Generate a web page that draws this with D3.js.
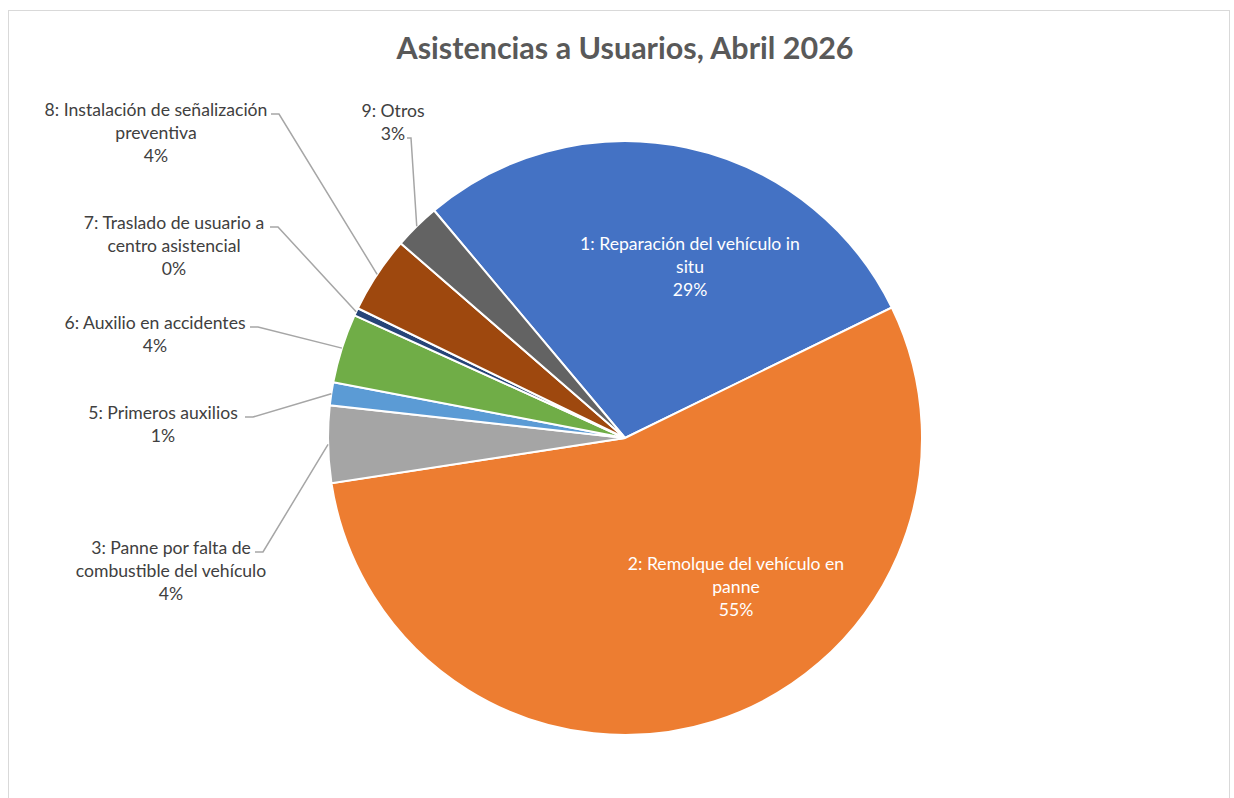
<!DOCTYPE html>
<html>
<head>
<meta charset="utf-8">
<script src="https://cdn.jsdelivr.net/npm/d3@7"></script>
<style>
  body { margin: 0; background: #fff; }
  text { font-family: Lato, "Open Sans", sans-serif; }
</style>
</head>
<body>
<div id="chart"></div>
<script>
// data
var categories = [
  "1: Reparación del vehículo in situ",
  "2: Remolque del vehículo en panne",
  "3: Panne por falta de combustible del vehículo",
  "5: Primeros auxilios",
  "6: Auxilio en accidentes",
  "7: Traslado de usuario a centro asistencial",
  "8: Instalación de señalización preventiva",
  "9: Otros"
];
var counts = [69, 131, 10, 3, 9, 1, 10, 6];
var colors = ["#4472C4", "#ED7D31", "#A5A5A5", "#5B9BD5", "#70AD47", "#264478", "#9E480E", "#636363"];

var W = 1234, H = 798;
var cx = 625, cy = 438, radius = 297;

// label placement (text centre x, first baseline y, inside?, leader start)
var labelPos = [
  {x: 690, y: 250, inside: true},
  {x: 736, y: 570, inside: true},
  {x: 171, y: 554, lx: 255, ly: 552},
  {x: 163, y: 419, lx: 245, ly: 417},
  {x: 155, y: 329, lx: 250, ly: 327},
  {x: 174, y: 229, lx: 270, ly: 227},
  {x: 156, y: 116, lx: 271, ly: 114},
  {x: 393, y: 117, lx: 407, ly: 138, vert: true}
];

var total = d3.sum(counts);
var fmtPct = function(v) { return Math.round(v / total * 100) + "%"; };

var svg = d3.select("#chart").append("svg")
  .attr("width", W)
  .attr("height", H);

// chart border
svg.append("rect")
  .attr("x", 8.5).attr("y", 10.5)
  .attr("width", 1221).attr("height", 800)
  .attr("fill", "#fff")
  .attr("stroke", "#d9d9d9");

svg.append("text")
  .attr("x", 625)
  .attr("y", 59)
  .attr("text-anchor", "middle")
  .style("font-size", "30.5px")
  .style("font-weight", "bold")
  .style("fill", "#595959")
  .text("Asistencias a Usuarios, Abril 2026");

var start = 320 * Math.PI / 180;
var pie = d3.pie().sort(null).value(function(d) { return d; })
  .startAngle(start).endAngle(start + 2 * Math.PI);
var arcs = pie(counts);

var arc = d3.arc().innerRadius(0).outerRadius(radius);
var rimArc = d3.arc().innerRadius(radius).outerRadius(radius);

var g = svg.append("g").attr("transform", "translate(" + cx + "," + cy + ")");

g.selectAll("path.slice")
  .data(arcs)
  .enter().append("path")
  .attr("class", "slice")
  .attr("d", arc)
  .attr("fill", function(d, i) { return colors[i]; })
  .attr("stroke", "#fff")
  .attr("stroke-width", 2);

// wraps label text at a max width, like Excel does
function wrap(str, maxW, size) {
  var tmp = svg.append("text").style("font-size", size + "px");
  var words = str.split(" "), lines = [], cur = "";
  words.forEach(function(w) {
    var test = cur ? cur + " " + w : w;
    tmp.text(test);
    if (tmp.node().getComputedTextLength() > maxW && cur) {
      lines.push(cur);
      cur = w;
    } else {
      cur = test;
    }
  });
  lines.push(cur);
  tmp.remove();
  return lines;
}

var fs = 17.6, lh = 23;

arcs.forEach(function(d, i) {
  var p = labelPos[i];
  var lines = wrap(categories[i], 226, fs);
  lines.push(fmtPct(d.value));

  var t = svg.append("text")
    .attr("text-anchor", "middle")
    .style("font-size", fs + "px")
    .style("fill", p.inside ? "#fff" : "#404040");
  lines.forEach(function(l, k) {
    t.append("tspan").attr("x", p.x).attr("y", p.y + k * lh).text(l);
  });

  if (!p.inside) {
    var c = rimArc.centroid(d);
    var ex = cx + c[0], ey = cy + c[1];
    var pts = p.vert
      ? [[p.lx, p.ly], [p.lx + 4, p.ly], [ex, ey]]
      : [[p.lx, p.ly], [p.lx + 8, p.ly], [ex, ey]];
    svg.append("path")
      .attr("d", d3.line()(pts))
      .attr("fill", "none")
      .attr("stroke", "#a6a6a6")
      .attr("stroke-width", 1.5);
  }
});
</script>
</body>
</html>
